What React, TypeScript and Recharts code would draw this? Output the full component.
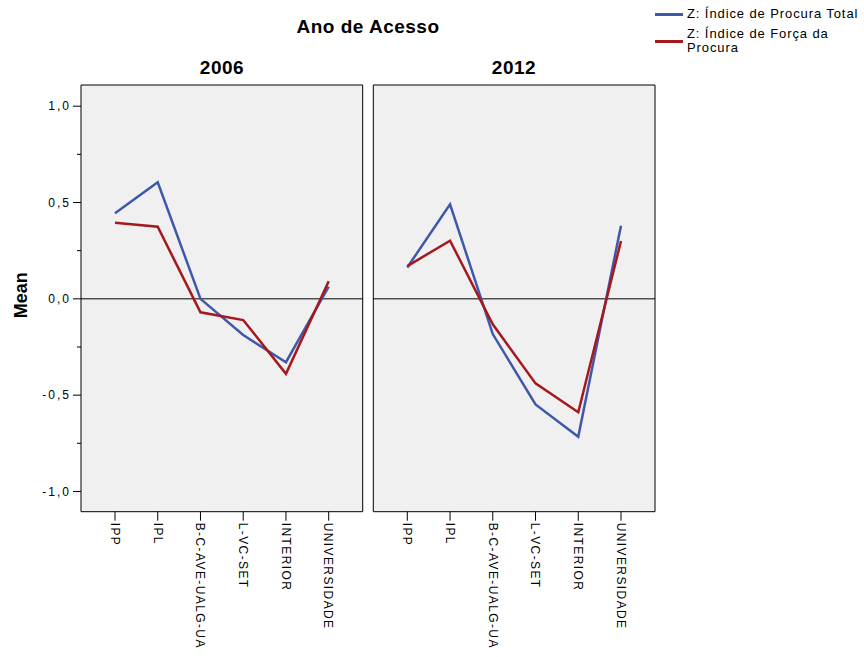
import { LineChart, Line, XAxis, YAxis, ReferenceLine, CartesianGrid, Legend } from 'recharts'

const categorias = ['IPP', 'IPL', 'B-C-AVE-UALG-UA', 'L-VC-SET', 'INTERIOR', 'UNIVERSIDADE']

const procura2006 = [0.444, 0.605, 0.0, -0.188, -0.329, 0.063]
const forca2006 = [0.395, 0.374, -0.07, -0.11, -0.389, 0.091]
const procura2012 = [0.163, 0.491, -0.183, -0.548, -0.716, 0.38]
const forca2012 = [0.17, 0.302, -0.132, -0.439, -0.589, 0.3]

const yTicks = [-1, -0.75, -0.5, -0.25, 0, 0.25, 0.5, 0.75, 1]
const majorTicks = [-1, -0.5, 0, 0.5, 1]
const yDomain = [-1.105, 1.11]

const series = [
    { key: 'procura', name: 'Z: Índice de Procura Total', color: '#3f58aa' },
    { key: 'forca', name: 'Z: Índice de Força da Procura', color: '#a5181e' },
]

const data2006 = categorias.map((cat, i) => ({ cat, procura: procura2006[i], forca: forca2006[i] }))
const data2012 = categorias.map((cat, i) => ({ cat, procura: procura2012[i], forca: forca2012[i] }))

const font = '"Liberation Sans", Arial, sans-serif'

const fmt = (v: number) => v.toFixed(1).replace('.', ',')

const YTick = ({ x, y, payload }: any) => {
    const major = majorTicks.includes(payload.value)
    return (
        <g>
            <line x1={x - (major ? 8 : 4)} x2={x} y1={y} y2={y} stroke="#000" />
            {major && (
                <text x={x - 10} y={y} dy="0.35em" textAnchor="end" fontSize={12}
                    letterSpacing={2} fontFamily={font} fill="#000">
                    {fmt(payload.value)}
                </text>
            )}
        </g>
    )
}

const XTick = ({ x, y, payload }: any) => (
    <g>
        <line x1={x} x2={x} y1={y} y2={y + 9} stroke="#000" />
        <text transform={`translate(${x},${y + 11}) rotate(90)`} dy="0.35em" textAnchor="start"
            fontSize={12} letterSpacing={1.4} fontFamily={font} fill="#000">
            {payload.value}
        </text>
    </g>
)

const MeanLabel = (props: any) => {
    const vb = props.viewBox
    const cx = vb.x + 10
    const cy = vb.y + vb.height / 2 - 3
    return (
        <text x={cx} y={cy} transform={`rotate(-90, ${cx}, ${cy})`} textAnchor="middle" dy="0.35em"
            fontSize={18} fontWeight="bold" fontFamily={font} fill="#000">
            Mean
        </text>
    )
}

// keep the legend in the same order as the series list
const LegendContent = ({ payload }: any) => {
    const items = series
        .map(s => (payload || []).find((p: any) => p.value === s.name))
        .filter(Boolean)
    return (
        <div style={{ fontFamily: font, fontSize: 13, letterSpacing: 0.9, color: '#000' }}>
            {items.map((p: any) => (
                <div key={p.value} style={{ display: 'flex', alignItems: 'center', marginBottom: 6 }}>
                    <span style={{ width: 28, height: 0, borderTop: `3px solid ${p.color}`, marginRight: 4, flexShrink: 0 }} />
                    <span style={{ width: 176, lineHeight: '14px' }}>{p.value}</span>
                </div>
            ))}
        </div>
    )
}

function Painel({ data, showY, legend }: { data: any[]; showY: boolean; legend?: boolean }) {
    return (
        <LineChart width={showY ? 370 : 300} height={657} data={data}
            margin={{ top: 84, right: showY ? 6.3 : 9, bottom: 15.3, left: showY ? 11 : 7.3 }}>
            <CartesianGrid horizontal={false} vertical={false} fill="#f0f0f0" />
            <XAxis dataKey="cat" scale="point" padding={{ left: 34, right: 34 }} height={130}
                interval={0} tickSize={0} tickMargin={0} tick={<XTick />}
                axisLine={{ stroke: '#000' }} tickLine={false} />
            <XAxis xAxisId="top" dataKey="cat" orientation="top" scale="point" height={1}
                tick={false} tickLine={false} axisLine={{ stroke: '#000' }} />
            {showY ? (
                <YAxis type="number" domain={yDomain} ticks={yTicks} interval={0} width={70}
                    tickSize={0} tickMargin={0} tick={<YTick />} tickLine={false}
                    axisLine={{ stroke: '#000' }} label={MeanLabel} />
            ) : (
                <YAxis type="number" domain={yDomain} width={1} tick={false} tickLine={false}
                    axisLine={{ stroke: '#000' }} />
            )}
            <YAxis yAxisId="r" orientation="right" type="number" domain={yDomain} width={1}
                tick={false} tickLine={false} axisLine={{ stroke: '#000' }} />
            <ReferenceLine y={0} stroke="#000" strokeWidth={1} />
            {series.map(s => (
                <Line key={s.key} type="linear" dataKey={s.key} name={s.name} stroke={s.color}
                    strokeWidth={2.5} dot={false} activeDot={false} isAnimationActive={false} />
            ))}
            {legend && (
                <Legend layout="vertical" align="center" verticalAlign="middle" content={<LegendContent />}
                    wrapperStyle={{ position: 'absolute', left: 290, top: 7, width: 210 }} />
            )}
        </LineChart>
    )
}

export default function App() {
    return (
        <div style={{ position: 'fixed', left: 0, top: 0, width: 864, height: 657, background: '#fff', overflow: 'hidden', fontFamily: font }}>
            <div style={{ position: 'absolute', left: 0, top: 0 }}>
                <Painel data={data2006} showY={true} />
            </div>
            <div style={{ position: 'absolute', left: 365, top: 0 }}>
                <Painel data={data2012} showY={false} legend={true} />
            </div>
            <div style={{ position: 'absolute', left: 218, top: 16, width: 300, textAlign: 'center', fontSize: 19, fontWeight: 'bold', letterSpacing: 0.5, lineHeight: '22px' }}>
                Ano de Acesso
            </div>
            <div style={{ position: 'absolute', left: 122, top: 57, width: 200, textAlign: 'center', fontSize: 19, fontWeight: 'bold', letterSpacing: 0.5, lineHeight: '22px' }}>
                2006
            </div>
            <div style={{ position: 'absolute', left: 414, top: 57, width: 200, textAlign: 'center', fontSize: 19, fontWeight: 'bold', letterSpacing: 0.5, lineHeight: '22px' }}>
                2012
            </div>
        </div>
    )
}
